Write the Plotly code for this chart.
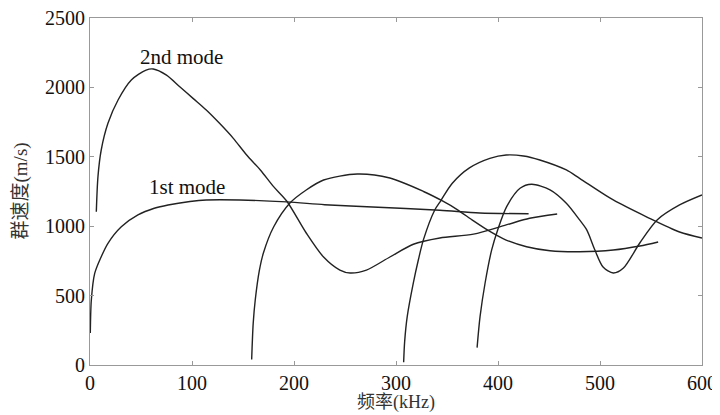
import plotly.graph_objects as go

# Mode curves: frequency (kHz) and group velocity (m/s)
mode1_f = [0.3, 1.3, 4.6, 11, 17.6, 30.7, 47, 63, 76.5, 98, 114, 147, 193, 230, 277, 343, 382, 430]
mode1_v = [230, 468, 660, 780, 877, 996, 1081, 1129, 1153, 1178, 1189, 1189, 1175, 1155, 1138, 1115, 1095, 1090]

mode2_f = [6.2, 7.8, 11, 17.6, 27.5, 40.5, 55, 62, 75, 88, 101, 114, 127, 140.5, 153.6, 167, 180, 193,
           212, 229, 245, 255, 271, 294, 317, 343, 376, 408, 431, 458]
mode2_v = [1104, 1357, 1549, 1741, 1909, 2053, 2125, 2133, 2089, 2005, 1921, 1837, 1741, 1633, 1513, 1405, 1285, 1180,
           951, 778, 684, 663, 684, 778, 870, 915, 943, 1009, 1057, 1088]

mode3_f = [158.5, 160, 162, 166, 170, 180, 196, 212, 229, 262, 294, 327, 346, 360, 376, 392, 408, 428, 451, 480, 513, 539, 557]
mode3_v = [40, 300, 468, 680, 807, 994, 1167, 1261, 1333, 1376, 1347, 1250, 1180, 1120, 1038, 962, 900, 852, 823, 816, 828, 857, 886]

mode4_f = [307.5, 308.5, 311, 317, 322, 327, 338, 344, 355, 372, 392, 408, 425, 441, 467, 480, 513, 546, 578, 600]
mode4_v = [20, 170, 348, 591, 760, 905, 1117, 1185, 1308, 1420, 1489, 1513, 1506, 1477, 1405, 1345, 1189, 1066, 958, 915]

mode5_f = [379.5, 382.4, 387.3, 393.8, 400, 408.5, 421.6, 433, 451, 467, 480, 487, 495, 503, 513, 523, 539, 556, 578, 600]
mode5_v = [125, 348, 589, 829, 980, 1141, 1273, 1302, 1261, 1165, 1045, 973, 828, 706, 663, 699, 879, 1045, 1153, 1225]

x_ticks = [0, 100, 200, 300, 400, 500, 600]
y_ticks = [0, 500, 1000, 1500, 2000, 2500]

labels = ["1st mode", "2nd mode"]
label_pos_f = [95, 90]
label_pos_v = [1279, 2219]

x_title = "频率(kHz)"
y_title = "群速度(m/s)"

fig = go.Figure()
for fx, vy in [(mode1_f, mode1_v), (mode2_f, mode2_v), (mode3_f, mode3_v),
               (mode4_f, mode4_v), (mode5_f, mode5_v)]:
    fig.add_trace(go.Scatter(x=fx, y=vy, mode="lines",
                             line=dict(color="#222222", width=1.4, shape="spline", smoothing=0.8),
                             showlegend=False, hoverinfo="skip"))

serif = "Liberation Serif, Times New Roman, serif"
for t, fx, vy in zip(labels, label_pos_f, label_pos_v):
    fig.add_annotation(x=fx, y=vy, text=t, showarrow=False,
                       font=dict(family=serif, size=21, color="#111111"),
                       xanchor="center", yanchor="middle")

fig.add_annotation(x=0.5, y=0, xref="paper", yref="paper", text=x_title, showarrow=False,
                   yshift=-37, xanchor="center", yanchor="middle",
                   font=dict(family="Liberation Serif, Noto Sans CJK SC", size=18, color="#333333"))
fig.add_annotation(x=0, y=0.5, xref="paper", yref="paper", text=y_title, showarrow=False,
                   xshift=-70, textangle=-90, xanchor="center", yanchor="middle",
                   font=dict(family="Liberation Serif, Noto Sans CJK SC", size=19, color="#333333"))

axis_common = dict(showgrid=False, zeroline=False, showline=True, linecolor="#999999",
                   linewidth=1, mirror="ticks", ticks="inside", ticklen=4, tickcolor="#999999",
                   automargin=False, ticklabeloverflow="allow",
                   tickfont=dict(family=serif, size=20, color="#111111"))

fig.update_xaxes(range=[0, 600], tickvals=x_ticks, ticktext=[str(v) for v in x_ticks], **axis_common)
fig.update_yaxes(range=[0, 2500], tickvals=y_ticks, ticktext=[str(v) for v in y_ticks], **axis_common)

fig.update_layout(width=712, height=407, margin=dict(l=82, r=18, t=10, b=50),
                  plot_bgcolor="white", paper_bgcolor="white")

fig.write_html("out.html")
